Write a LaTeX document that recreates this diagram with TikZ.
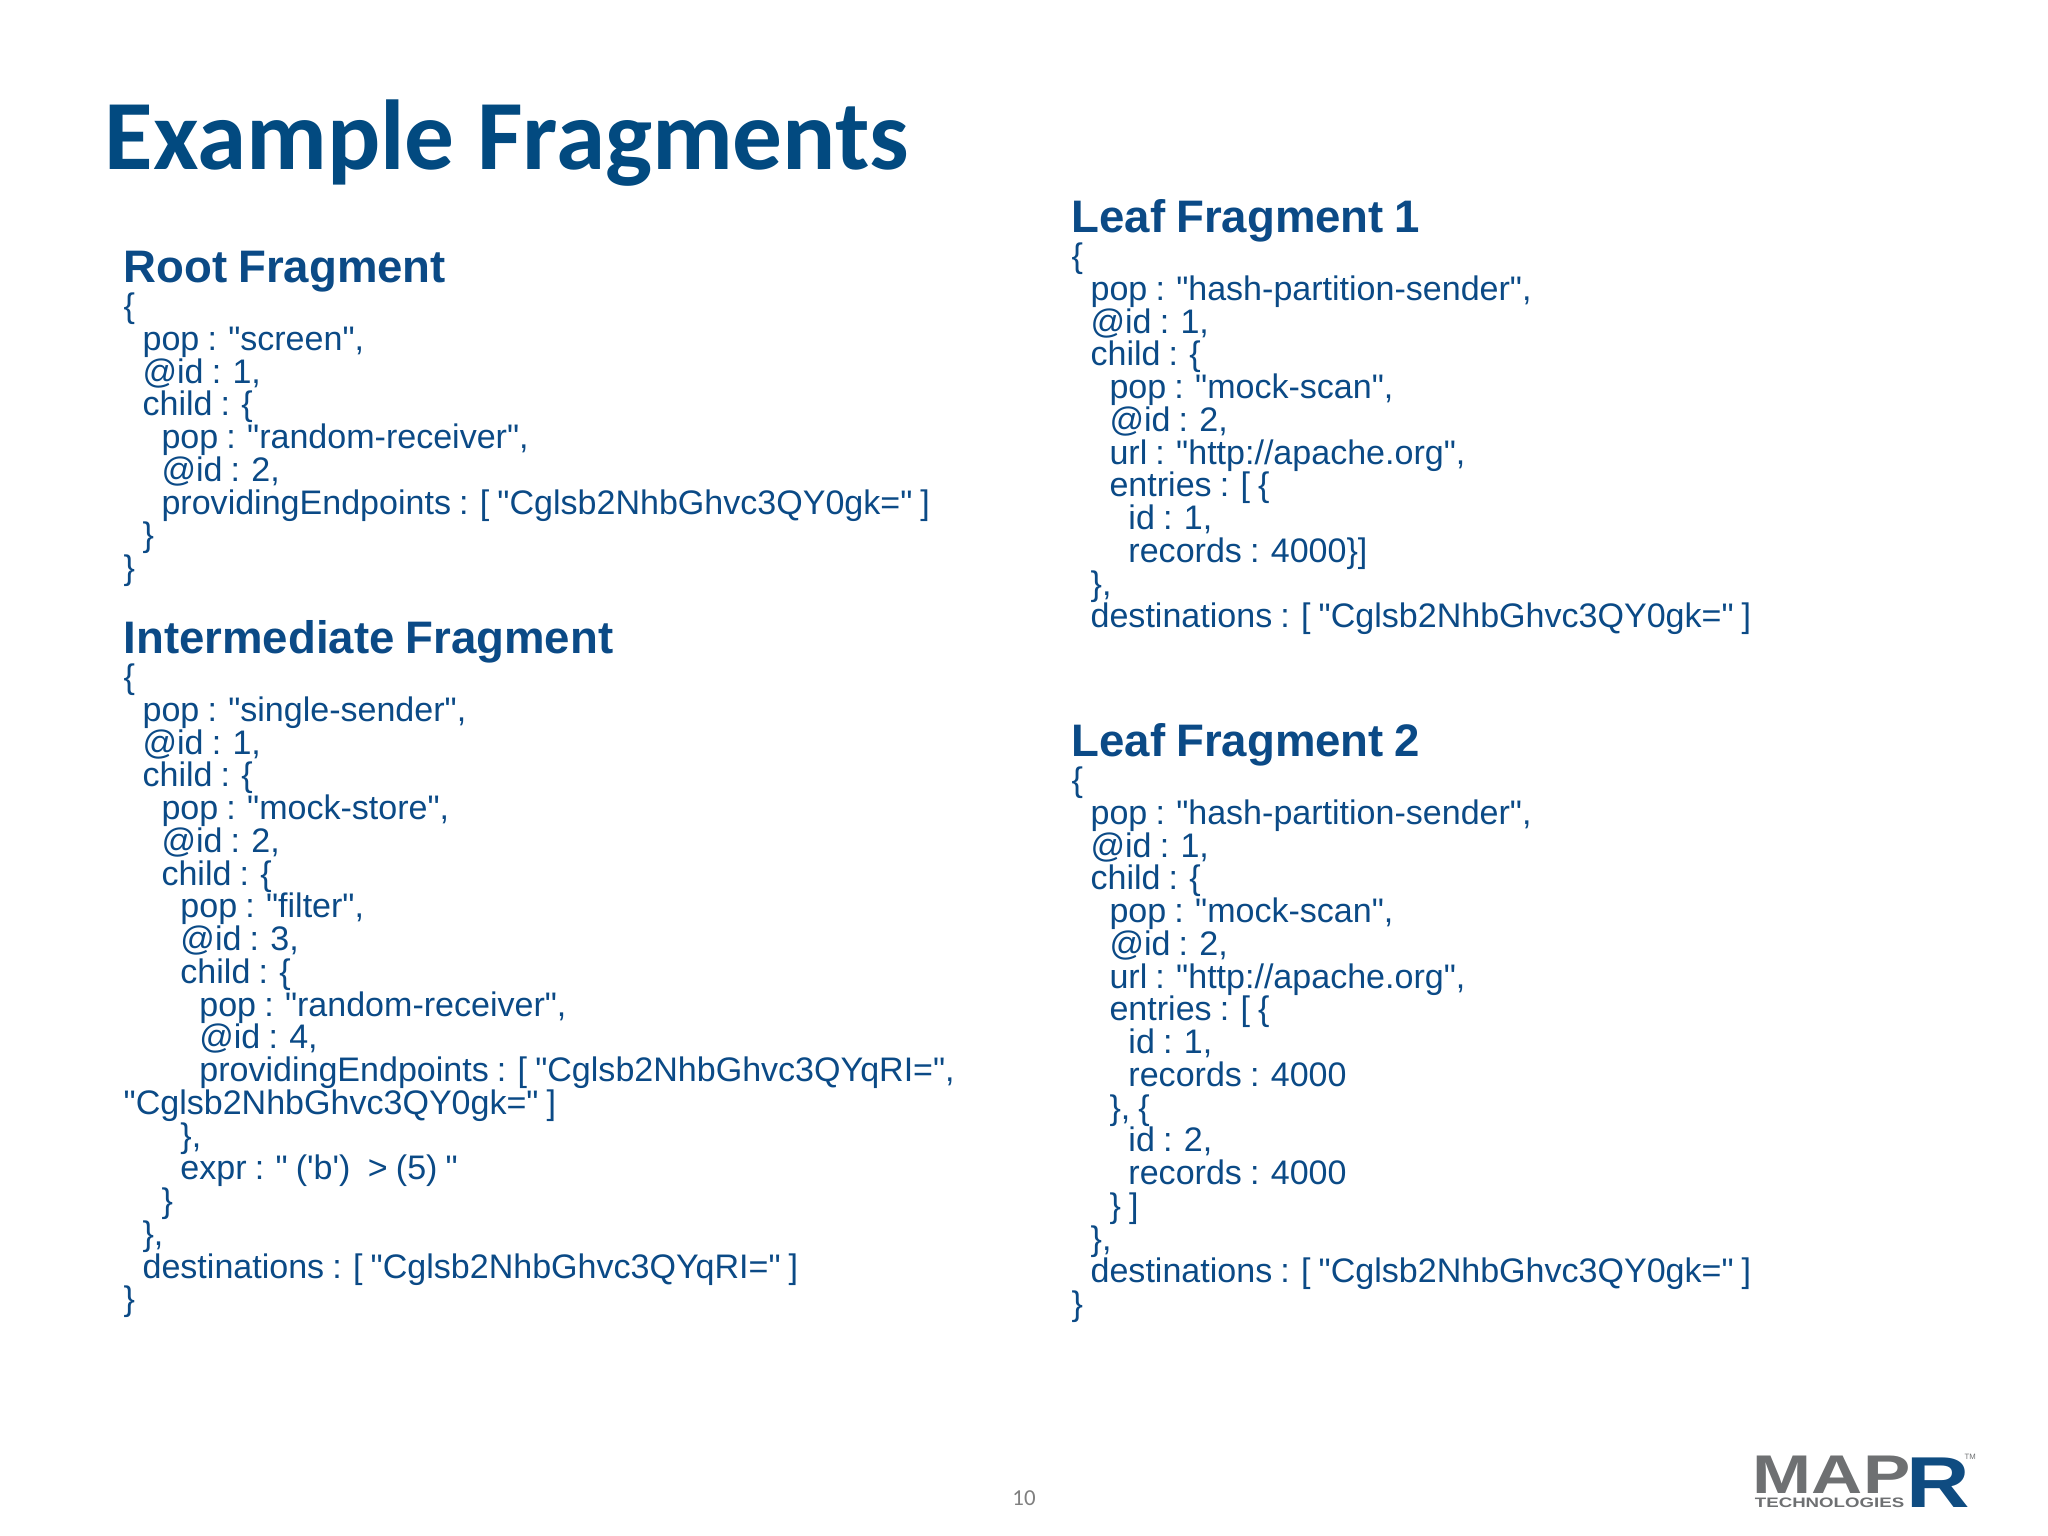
\documentclass[tikz,border=0pt]{standalone}
\usepackage{fontspec}
\usepackage{xcolor}
\usetikzlibrary{positioning}
\newfontfamily\bodyfont{Liberation Sans}
\newfontfamily\fragfont[WordSpace=0.86]{Liberation Sans}
\newfontfamily\slidefont{Carlito}
\definecolor{fragblue}{HTML}{0B4A86}
\definecolor{titleblue}{HTML}{024A80}
\definecolor{logogray}{HTML}{6E7072}
\definecolor{logoblue}{HTML}{0F4C81}
\newlength{\lvlw}
\setlength{\lvlw}{5.38pt}
\newcommand{\lvl}[1]{\hspace*{#1\lvlw}}
\tikzset{
  slidetitle/.style = {anchor = base west, inner sep = 0pt, text = titleblue,
    font = \slidefont\bfseries\fontsize{28.25}{30}\selectfont},
  fraghead/.style = {anchor = base west, inner sep = 0pt, text = fragblue,
    font = \bodyfont\bfseries\fontsize{12.96}{14}\selectfont},
  fragbody/.style = {anchor = north west, inner sep = 0pt, text = fragblue, align = left,
    font = \fragfont\fontsize{9.68}{9.31}\selectfont},
  logotext/.style = {inner sep = 0pt, transform shape, font = \bodyfont\bfseries}
}
\begin{document}
\begin{tikzpicture}[x = .01cm, y = -.01cm]
  \useasboundingbox (0,0) rectangle (2048,1536);
  \fill[white] (0,0) rectangle (2048,1536);

% title
  \node[slidetitle] (title) at (104,169) {Example Fragments};

% left column
  \node[fraghead] (rootHead) at (123,282) {Root Fragment};
  \node[fragbody, below = 0pt of rootHead.south west, anchor = north west] (rootBody) {%
    \{\\
    \lvl{1}pop : "screen",\\
    \lvl{1}@id : 1,\\
    \lvl{1}child : \{\\
    \lvl{2}pop : "random-receiver",\\
    \lvl{2}@id : 2,\\
    \lvl{2}providingEndpoints : [ "Cglsb2NhbGhvc3QY0gk=" ]\\
    \lvl{1}\}\\
    \}};

  \node[fraghead] (interHead) at (123,653) {Intermediate Fragment};
  \node[fragbody, below = 0pt of interHead.south west, anchor = north west] (interBody) {%
    \{\\
    \lvl{1}pop : "single-sender",\\
    \lvl{1}@id : 1,\\
    \lvl{1}child : \{\\
    \lvl{2}pop : "mock-store",\\
    \lvl{2}@id : 2,\\
    \lvl{2}child : \{\\
    \lvl{3}pop : "filter",\\
    \lvl{3}@id : 3,\\
    \lvl{3}child : \{\\
    \lvl{4}pop : "random-receiver",\\
    \lvl{4}@id : 4,\\
    \lvl{4}providingEndpoints : [ "Cglsb2NhbGhvc3QYqRI=",\\
    "Cglsb2NhbGhvc3QY0gk=" ]\\
    \lvl{3}\},\\
    \lvl{3}expr : " ('b')\hspace*{.278em} > (5) "\\
    \lvl{2}\}\\
    \lvl{1}\},\\
    \lvl{1}destinations : [ "Cglsb2NhbGhvc3QYqRI=" ]\\
    \}};

% right column
  \node[fraghead] (leafOneHead) at (1071,232) {Leaf Fragment 1};
  \node[fragbody, below = 0pt of leafOneHead.south west, anchor = north west] (leafOneBody) {%
    \{\\
    \lvl{1}pop : "hash-partition-sender",\\
    \lvl{1}@id : 1,\\
    \lvl{1}child : \{\\
    \lvl{2}pop : "mock-scan",\\
    \lvl{2}@id : 2,\\
    \lvl{2}url : "http://apache.org",\\
    \lvl{2}entries : [ \{\\
    \lvl{3}id : 1,\\
    \lvl{3}records : 4000\}]\\
    \lvl{1}\},\\
    \lvl{1}destinations : [ "Cglsb2NhbGhvc3QY0gk=" ]};

  \node[fraghead] (leafTwoHead) at (1071,756) {Leaf Fragment 2};
  \node[fragbody, below = 0pt of leafTwoHead.south west, anchor = north west] (leafTwoBody) {%
    \{\\
    \lvl{1}pop : "hash-partition-sender",\\
    \lvl{1}@id : 1,\\
    \lvl{1}child : \{\\
    \lvl{2}pop : "mock-scan",\\
    \lvl{2}@id : 2,\\
    \lvl{2}url : "http://apache.org",\\
    \lvl{2}entries : [ \{\\
    \lvl{3}id : 1,\\
    \lvl{3}records : 4000\\
    \lvl{2}\}, \{\\
    \lvl{3}id : 2,\\
    \lvl{3}records : 4000\\
    \lvl{2}\} ]\\
    \lvl{1}\},\\
    \lvl{1}destinations : [ "Cglsb2NhbGhvc3QY0gk=" ]\\
    \}};

% footer
  \node[text = gray, font = \slidefont\fontsize{6.5}{8}\selectfont] (pageNum) at (1024,1498) {10};

% logo
  \node[logotext, text = logogray, anchor = base west, xscale = 1.3, font = \bodyfont\bfseries\fontsize{15.5}{15.5}\selectfont]
    (logoMap) at (1752,1493) {MAP};
  \node[logotext, text = logogray, anchor = base west, xscale = 1.36, font = \bodyfont\bfseries\fontsize{3.9}{3.9}\selectfont]
    (logoTech) at (1754,1507.5) {TECHNOLOGIES};
  \node[logotext, text = logoblue, anchor = base west, xscale = 1.22, font = \bodyfont\bfseries\fontsize{20.5}{20.5}\selectfont]
    (logoR) at (1906,1507) {R};
  \node[logotext, text = logogray, anchor = base west, font = \bodyfont\fontsize{2.2}{2.2}\selectfont]
    (logoTm) at (1964,1459) {TM};
\end{tikzpicture}
\end{document}
